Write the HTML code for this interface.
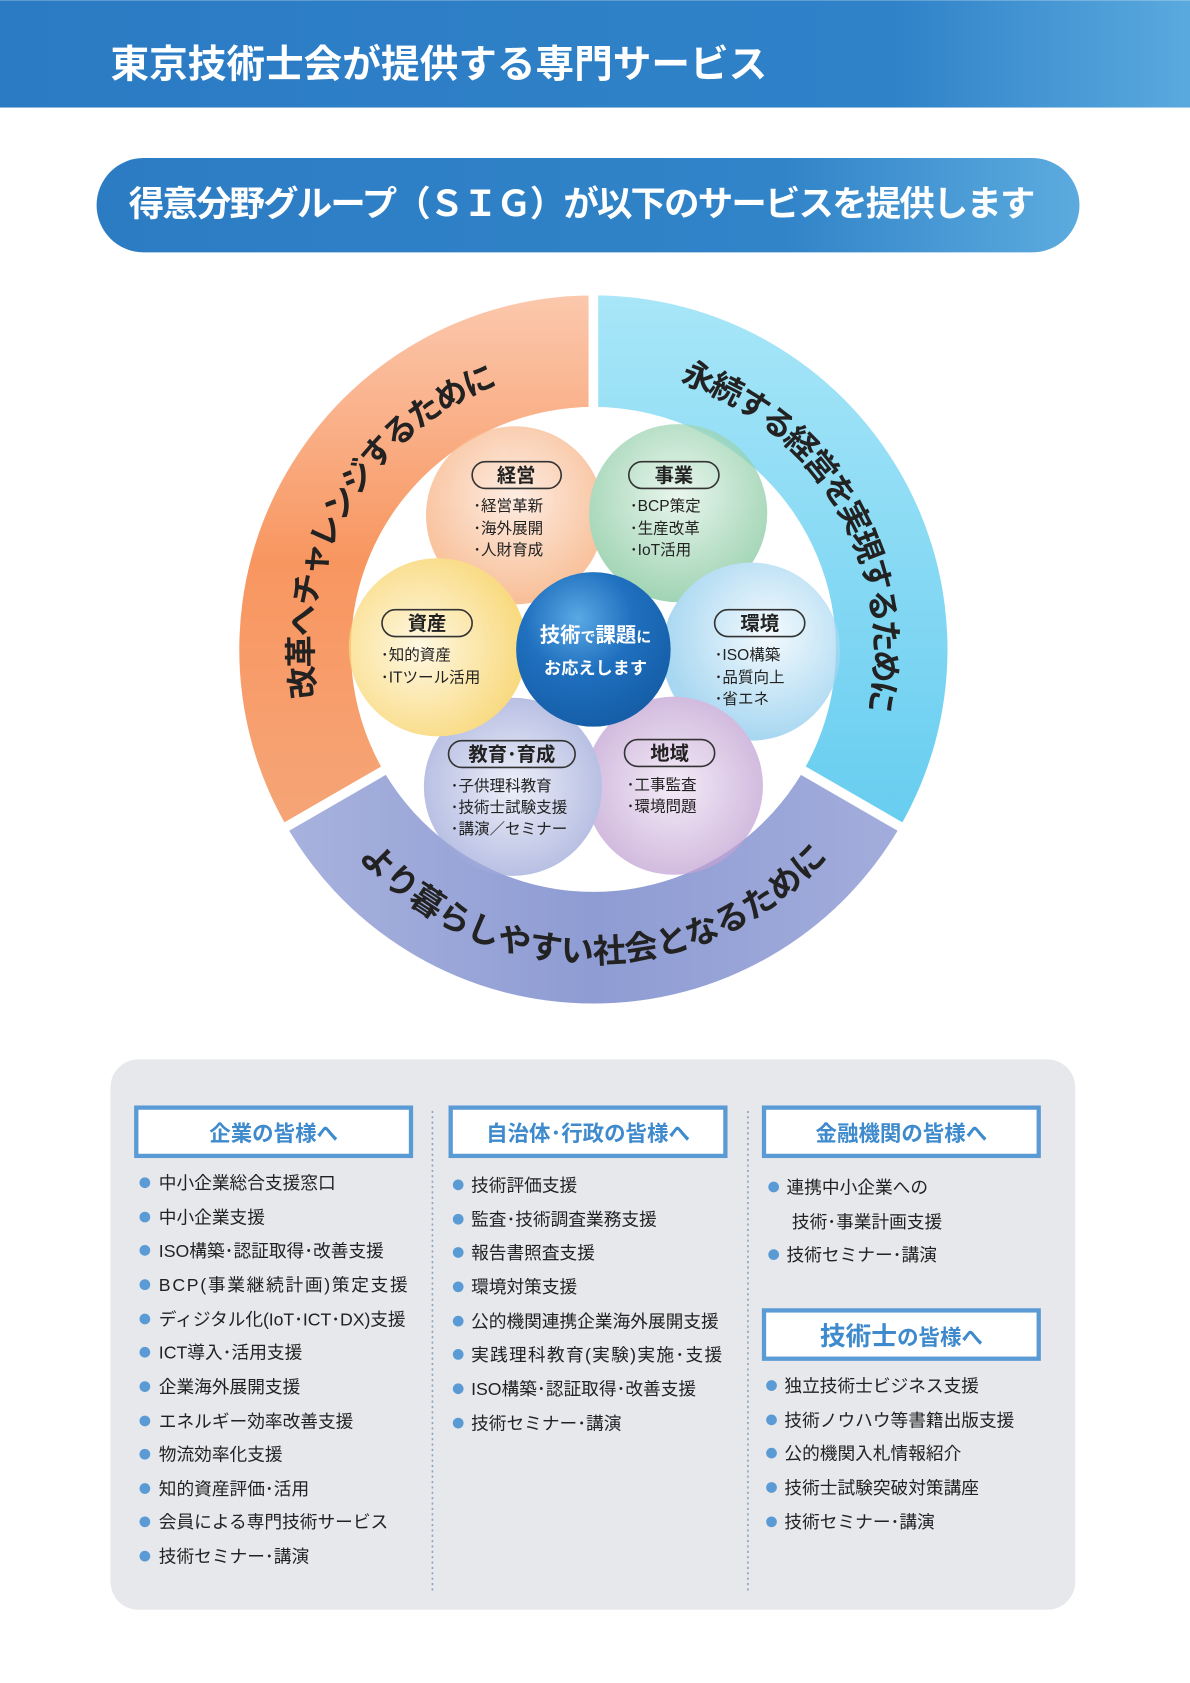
<!DOCTYPE html>
<html><head><meta charset="utf-8"><style>
html,body{margin:0;padding:0;background:#fff}
svg{display:block}
text{font-family:"Liberation Sans","Noto Sans CJK JP",sans-serif}
</style></head><body>
<svg width="1190" height="1683" viewBox="0 0 1109 1568" xmlns="http://www.w3.org/2000/svg">
<defs>
<linearGradient id="hd" x1="0" x2="1" y1="0" y2="0"><stop offset="0" stop-color="#2b7bc4"/><stop offset="0.75" stop-color="#2f82c8"/><stop offset="1" stop-color="#5aa9de"/></linearGradient>
<linearGradient id="bn" x1="0" x2="1"><stop offset="0" stop-color="#2c7cc4"/><stop offset="0.7" stop-color="#3184c8"/><stop offset="1" stop-color="#5cabdf"/></linearGradient>
<linearGradient id="or" x1="0" y1="0" x2="0" y2="1"><stop offset="0" stop-color="#fbc8ad"/><stop offset="0.5" stop-color="#f89660"/><stop offset="1" stop-color="#f6a577"/></linearGradient>
<linearGradient id="cy" x1="0" y1="0" x2="0" y2="1"><stop offset="0" stop-color="#a8e6f8"/><stop offset="1" stop-color="#67cdf0"/></linearGradient>
<linearGradient id="lv" x1="0" y1="0" x2="1" y2="0"><stop offset="0" stop-color="#a8b2de"/><stop offset="0.5" stop-color="#8e9cd3"/><stop offset="1" stop-color="#a3addc"/></linearGradient>
<radialGradient id="cc" cx="0.4" cy="0.3" r="0.7"><stop offset="0" stop-color="#5aa8e4"/><stop offset="0.5" stop-color="#1f70bf"/><stop offset="1" stop-color="#165ea8"/></radialGradient>
<radialGradient id="p1" cx="0.5" cy="0.4" r="0.6"><stop offset="0" stop-color="#fde6d8"/><stop offset="1" stop-color="#f6a66f"/></radialGradient>
<radialGradient id="p2" cx="0.5" cy="0.4" r="0.6"><stop offset="0" stop-color="#e0f2e6"/><stop offset="1" stop-color="#7cc497"/></radialGradient>
<radialGradient id="p3" cx="0.6" cy="0.4" r="0.6"><stop offset="0" stop-color="#f0f9fe"/><stop offset="1" stop-color="#86c8ec"/></radialGradient>
<radialGradient id="p4" cx="0.5" cy="0.5" r="0.6"><stop offset="0" stop-color="#efe3f3"/><stop offset="1" stop-color="#b894cc"/></radialGradient>
<radialGradient id="p5" cx="0.5" cy="0.5" r="0.6"><stop offset="0" stop-color="#e6e9f6"/><stop offset="1" stop-color="#8f9bd3"/></radialGradient>
<radialGradient id="p6" cx="0.4" cy="0.5" r="0.6"><stop offset="0" stop-color="#fff6d8"/><stop offset="1" stop-color="#f7cb4c"/></radialGradient>
<path id="ao" d="M326.1,736 A262,262 0 0 1 553,343"/>
<path id="ac" d="M553,343 A262,262 0 0 1 779.9,736"/>
<path id="ab" d="M300.1,751 A292,292 0 0 0 805.9,751"/>
</defs>
<rect width="1109" height="1568" fill="#fff"/>
<rect x="0" y="0" width="1109" height="100" fill="url(#hd)"/>
<text x="103" y="72" font-size="36" font-weight="bold" fill="#fff" textLength="612">東京技術士会が提供する専門サービス</text>
<rect x="90" y="147" width="916" height="88" rx="44" fill="url(#bn)"/>
<text x="120" y="201" font-size="33" font-weight="bold" fill="#fff" textLength="845">得意分野グループ（ＳＩＧ）が以下のサービスを提供します</text>

<!-- ring -->
<path d="M553,605 L267.2,770 A330,330 0 0 1 553,275 Z" fill="url(#or)"/>
<path d="M553,605 L553,275 A330,330 0 0 1 838.8,770 Z" fill="url(#cy)"/>
<path d="M553,605 L838.8,770 A330,330 0 0 1 267.2,770 Z" fill="url(#lv)"/>
<g stroke="#fff" stroke-width="9"><line x1="553" y1="605" x2="553" y2="270"/><line x1="553" y1="605" x2="843" y2="772.5"/><line x1="553" y1="605" x2="263" y2="772.5"/></g>
<circle cx="553" cy="605" r="226" fill="#fff"/>
<g font-size="30" font-weight="bold" fill="#222">
<text><textPath href="#ao" startOffset="50%" text-anchor="middle" letter-spacing="-2">改革へチャレンジするために</textPath></text>
<text><textPath href="#ac" startOffset="50%" text-anchor="middle" letter-spacing="-2.5">永続する経営を実現するために</textPath></text>
<text><textPath href="#ab" startOffset="50%" text-anchor="middle" font-size="31">より暮らしやすい社会となるために</textPath></text>
</g>

<!-- petals -->
<g opacity="0.72">
<circle cx="480" cy="480" r="83" fill="url(#p1)"/>
<circle cx="632" cy="478" r="83" fill="url(#p2)"/>
<circle cx="700" cy="607" r="83" fill="url(#p3)"/>
<circle cx="628" cy="732" r="83" fill="url(#p4)"/>
<circle cx="478" cy="733" r="83" fill="url(#p5)"/>
<circle cx="408" cy="603" r="83" fill="url(#p6)"/>
</g>
<circle cx="553" cy="605" r="72" fill="url(#cc)"/>
<text x="555" y="598" font-size="19" font-weight="bold" fill="#fff" text-anchor="middle">技術<tspan font-size="14">で</tspan>課題<tspan font-size="14">に</tspan></text>
<text x="555" y="628" font-size="16" font-weight="bold" fill="#fff" text-anchor="middle">お応えします</text>

<g fill="none" stroke="#333" stroke-width="1.5">
<rect x="440" y="430" width="83" height="25" rx="12.5"/>
<rect x="586" y="430" width="84" height="25" rx="12.5"/>
<rect x="356" y="568" width="84" height="25" rx="12.5"/>
<rect x="666" y="568" width="84" height="25" rx="12.5"/>
<rect x="418" y="690" width="118" height="25" rx="12.5"/>
<rect x="582" y="689" width="84" height="25" rx="12.5"/>
</g>
<g font-size="18" font-weight="bold" fill="#222" text-anchor="middle">
<text x="481" y="449">経営</text><text x="628" y="449">事業</text>
<text x="398" y="587">資産</text><text x="708" y="587">環境</text>
<text x="477" y="709">教育･育成</text><text x="624" y="708">地域</text>
</g>
<g font-size="14.5" fill="#222">
<text x="441" y="476">･経営革新</text><text x="441" y="497">･海外展開</text><text x="441" y="517">･人財育成</text>
<text x="587" y="476">･BCP策定</text><text x="587" y="497">･生産改革</text><text x="587" y="517">･IoT活用</text>
<text x="355" y="615">･知的資産</text><text x="355" y="636">･ITツール活用</text>
<text x="666" y="615">･ISO構築</text><text x="666" y="636">･品質向上</text><text x="666" y="656">･省エネ</text>
<text x="420" y="737">･子供理科教育</text><text x="420" y="757">･技術士試験支援</text><text x="420" y="777">･講演／セミナー</text>
<text x="584" y="736">･工事監査</text><text x="584" y="756">･環境問題</text>
</g>

<!-- bottom panel -->
<rect x="103" y="987" width="899" height="513" rx="26" fill="#e7e8ec"/>
<g stroke="#8ea3bf" stroke-width="1.5" stroke-dasharray="2,3"><line x1="403" y1="1035" x2="403" y2="1485"/><line x1="697" y1="1035" x2="697" y2="1485"/></g>
<g fill="#fff" stroke="#5b9bd5" stroke-width="4">
<rect x="127" y="1032" width="256" height="45"/>
<rect x="420" y="1032" width="256" height="45"/>
<rect x="712" y="1032" width="256" height="45"/>
<rect x="712" y="1221" width="256" height="45"/>
</g>
<g font-size="20" font-weight="bold" fill="#3e8acd" text-anchor="middle">
<text x="255" y="1063">企業の皆様へ</text>
<text x="548" y="1063">自治体･行政の皆様へ</text>
<text x="840" y="1063">金融機関の皆様へ</text>
<text x="840" y="1253"><tspan font-size="24">技術士</tspan>の皆様へ</text>
</g>
<g fill="#5b9bd5">
<circle cx="135" cy="1102" r="5"/><circle cx="135" cy="1134" r="5"/><circle cx="135" cy="1165" r="5"/><circle cx="135" cy="1197" r="5"/><circle cx="135" cy="1229" r="5"/><circle cx="135" cy="1260" r="5"/><circle cx="135" cy="1292" r="5"/><circle cx="135" cy="1324" r="5"/><circle cx="135" cy="1355" r="5"/><circle cx="135" cy="1387" r="5"/><circle cx="135" cy="1418" r="5"/><circle cx="135" cy="1450" r="5"/>
<circle cx="427" cy="1104" r="5"/><circle cx="427" cy="1136" r="5"/><circle cx="427" cy="1167" r="5"/><circle cx="427" cy="1199" r="5"/><circle cx="427" cy="1231" r="5"/><circle cx="427" cy="1262" r="5"/><circle cx="427" cy="1294" r="5"/><circle cx="427" cy="1326" r="5"/>
<circle cx="721" cy="1106" r="5"/><circle cx="721" cy="1169" r="5"/>
<circle cx="719" cy="1291" r="5"/><circle cx="719" cy="1323" r="5"/><circle cx="719" cy="1354" r="5"/><circle cx="719" cy="1386" r="5"/><circle cx="719" cy="1418" r="5"/>
</g>
<g font-size="16.5" fill="#222">
<text x="148" y="1108">中小企業総合支援窓口</text>
<text x="148" y="1140">中小企業支援</text>
<text x="148" y="1171">ISO構築･認証取得･改善支援</text>
<text x="148" y="1203" textLength="232">BCP(事業継続計画)策定支援</text>
<text x="148" y="1235" textLength="230">ディジタル化(IoT･ICT･DX)支援</text>
<text x="148" y="1266">ICT導入･活用支援</text>
<text x="148" y="1298">企業海外展開支援</text>
<text x="148" y="1330">エネルギー効率改善支援</text>
<text x="148" y="1361">物流効率化支援</text>
<text x="148" y="1393">知的資産評価･活用</text>
<text x="148" y="1424">会員による専門技術サービス</text>
<text x="148" y="1456">技術セミナー･講演</text>
<text x="439" y="1110">技術評価支援</text>
<text x="439" y="1142">監査･技術調査業務支援</text>
<text x="439" y="1173">報告書照査支援</text>
<text x="439" y="1205">環境対策支援</text>
<text x="439" y="1237">公的機関連携企業海外展開支援</text>
<text x="439" y="1268" textLength="234">実践理科教育(実験)実施･支援</text>
<text x="439" y="1300">ISO構築･認証取得･改善支援</text>
<text x="439" y="1332">技術セミナー･講演</text>
<text x="733" y="1112">連携中小企業への</text>
<text x="738" y="1144">技術･事業計画支援</text>
<text x="733" y="1175">技術セミナー･講演</text>
<text x="731" y="1297">独立技術士ビジネス支援</text>
<text x="731" y="1329">技術ノウハウ等書籍出版支援</text>
<text x="731" y="1360">公的機関入札情報紹介</text>
<text x="731" y="1392">技術士試験突破対策講座</text>
<text x="731" y="1424">技術セミナー･講演</text>
</g>
</svg>
</body></html>
